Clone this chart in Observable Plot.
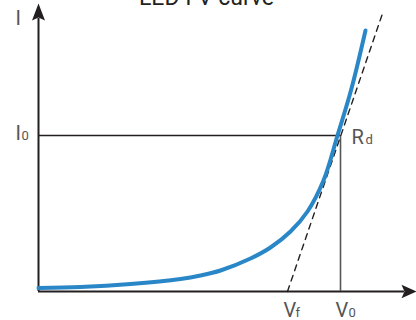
<!DOCTYPE html>
<html>
<head>
<meta charset="utf-8">
<script src="https://cdn.jsdelivr.net/npm/d3@7"></script>
<script src="https://cdn.jsdelivr.net/npm/@observablehq/plot@0.6"></script>
<style>
  html, body { margin: 0; padding: 0; background: #fff; }
  #chart svg { display: block; }
</style>
</head>
<body>
<div id="chart"></div>
<script>
// ---- data ----
const title = "LED I-V curve";
const voltage = [0, 0.42, 0.92, 1.42, 1.62, 1.82, 2.12, 2.32, 2.52, 2.69, 2.85, 2.99, 3.13, 3.27];
const current = [0.35, 0.45, 0.75, 1.25, 1.6, 2.1, 3.3, 4.4, 6.0, 8.0, 11.1, 15.6, 20.3, 26.1];
const V0 = 3.02;   // operating voltage
const I0 = 15.6;   // operating current
const Vf = 2.49;   // forward (threshold) voltage
const tangentV = [Vf, 3.44];
const tangentI = [0, 27.8];
const xMax = 3.78, yMax = 28.8;

const curve = voltage.map((v, i) => ({v, i: current[i]}));
const tangent = tangentV.map((v, k) => ({v, i: tangentI[k]}));

const ink = "#231f20";
const labelColor = "#555";
const font = "Roboto, 'Liberation Sans', sans-serif";

const arrowUp = {draw(ctx) { ctx.moveTo(0, 0); ctx.lineTo(-6.5, 17); ctx.lineTo(0, 14); ctx.lineTo(6.5, 17); ctx.closePath(); }};
const arrowRight = {draw(ctx) { ctx.moveTo(0, 0); ctx.lineTo(-15, -6.8); ctx.lineTo(-12, 0); ctx.lineTo(-15, 6.8); ctx.closePath(); }};

const big = {fontSize: 20, fill: labelColor, fontFamily: font, textAnchor: "start", lineAnchor: "bottom"};
const small = {fontSize: 13, fill: labelColor, fontFamily: font, textAnchor: "start", lineAnchor: "bottom"};

const chart = Plot.plot({
  width: 416,
  height: 320,
  margin: 0,
  x: {domain: [-0.38, xMax], axis: null},
  y: {domain: [-2.9, 29.1], axis: null},
  marks: [
    // axes
    Plot.ruleX([0], {y1: 0, y2: yMax - 1.5, stroke: ink, strokeWidth: 2}),
    Plot.ruleY([0], {x1: 0, x2: xMax - 0.12, stroke: ink, strokeWidth: 2}),
    Plot.dot([{v: 0, i: yMax}], {x: "v", y: "i", symbol: arrowUp, fill: ink, stroke: null, r: 5}),
    Plot.dot([{v: xMax, i: 0}], {x: "v", y: "i", symbol: arrowRight, fill: ink, stroke: null, r: 5}),
    // operating point guides
    Plot.ruleY([I0], {x1: 0, x2: V0, stroke: ink, strokeWidth: 1.4}),
    Plot.ruleX([V0], {y1: 0, y2: I0, stroke: "#555", strokeWidth: 1.6}),
    // tangent
    Plot.line(tangent, {x: "v", y: "i", stroke: ink, strokeWidth: 1.4, strokeDasharray: "6,5"}),
    // I-V curve
    Plot.line(curve, {x: "v", y: "i", stroke: "#2a87c7", strokeWidth: 4, curve: "catmull-rom"}),
    // labels
    Plot.text(["I"], {x: 0, y: yMax, dx: -23, dy: 21, ...big}),
    Plot.text(["I"], {x: 0, y: I0, dx: -23, dy: 4, ...big}),
    Plot.text(["0"], {x: 0, y: I0, dx: -17, dy: 4, ...small}),
    Plot.text(["R"], {x: V0, y: I0, dx: 11, dy: 8, ...big}),
    Plot.text(["d"], {x: V0, y: I0, dx: 25, dy: 8, ...small}),
    Plot.text(["V"], {x: Vf, y: 0, dx: -4, dy: 25, ...big}),
    Plot.text(["f"], {x: Vf, y: 0, dx: 8, dy: 25, ...small}),
    Plot.text(["V"], {x: V0, y: 0, dx: -5, dy: 25, ...big}),
    Plot.text(["0"], {x: V0, y: 0, dx: 8, dy: 25, ...small}),
    // title (cut off at the top, as in the reference)
    Plot.text([title], {frameAnchor: "top", dx: -2, dy: 4, lineAnchor: "bottom", fontSize: 23, fill: "#222", fontFamily: font})
  ]
});
document.getElementById("chart").append(chart);
</script>
</body>
</html>
